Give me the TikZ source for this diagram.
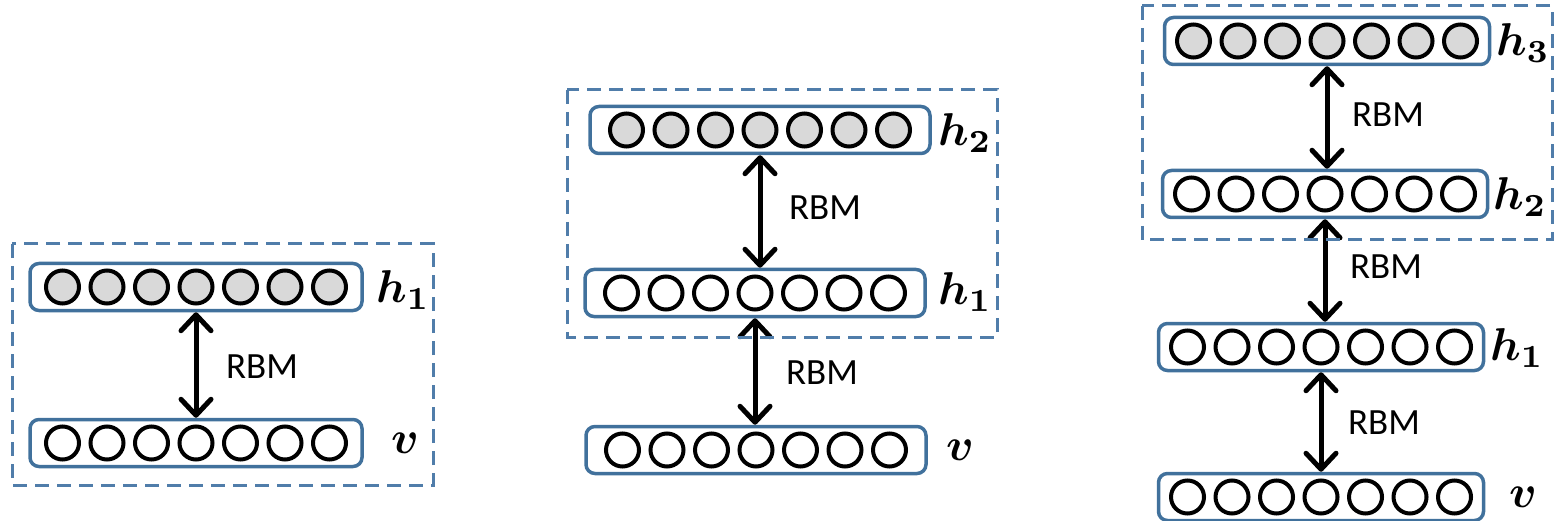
\documentclass[tikz,border=0pt]{standalone}
\usepackage{fontspec}
\usepackage{amsmath,bm}
\usetikzlibrary{arrows.meta}
\newfontfamily\rbmfont{Carlito}
\definecolor{barblue}{RGB}{65,113,156}
\definecolor{dashblue}{RGB}{80,125,170}
\definecolor{unitgray}{RGB}{217,217,217}
\tikzset{
  layerbar/.style={draw=barblue, line width=3.5pt, rounded corners=9pt, minimum width=#1, minimum height=47pt, inner sep=0pt},
  unit/.style={circle, draw=black, line width=4pt, minimum size=33pt, inner sep=0pt},
  rbmarrow/.style={line width=5pt, {Straight Barb[length=16pt,width=30pt,round]}-{Straight Barb[length=16pt,width=30pt,round]}},
  rbmlab/.style={font=\rbmfont\fontsize{37}{44}\selectfont, inner sep=0pt},
  laylab/.style={scale=4.6, inner sep=0pt},
  groupbox/.style={draw=dashblue, line width=3pt, dash pattern=on 14pt off 8pt}
}
\newcommand{\rbmlayer}[5]{% name, x, y, width, fill
  \node[layerbar=#4] (#1) at (#2,#3) {};
  \foreach \i in {1,...,7}{
    \node[unit, fill=#5] (#1-u\i) at ({#2+(\i-4)*44.5},#3) {};
  }
}
\begin{document}
\begin{tikzpicture}[x=1pt,y=-1pt]
\useasboundingbox (0,0) rectangle (1555,521);
% ---------- panel 1
\rbmlayer{pa-h1}{196}{287}{332}{unitgray}
\rbmlayer{pa-v}{196}{443}{332}{white}
\draw[rbmarrow] (pa-h1.south) -- (pa-v.north);
\node[rbmlab] (pa-r1) at (262,367) {RBM};
\node[laylab] (pa-lh1) at (403,290) {$\bm{h}_{\bm{1}}$};
\node[laylab] (pa-lv) at (405,443) {$\bm{v}$};
\draw[groupbox] (12,244) rectangle (433,485);
% ---------- panel 2
\rbmlayer{pb-h2}{760}{130}{340}{unitgray}
\rbmlayer{pb-h1}{755}{293}{340}{white}
\rbmlayer{pb-v}{756}{450}{340}{white}
\draw[rbmarrow] (pb-h2.south) -- (pb-h2.south |- pb-h1.north);
\draw[rbmarrow] (pb-h1.south) -- (pb-h1.south |- pb-v.north);
\node[rbmlab] (pb-r2) at (825,208) {RBM};
\node[rbmlab] (pb-r1) at (822,373) {RBM};
\node[laylab] (pb-lh2) at (965,133) {$\bm{h}_{\bm{2}}$};
\node[laylab] (pb-lh1) at (965,292) {$\bm{h}_{\bm{1}}$};
\node[laylab] (pb-lv) at (960,450) {$\bm{v}$};
\draw[groupbox] (567,90) rectangle (997,337);
% ---------- panel 3
\rbmlayer{pc-h3}{1327}{41}{325}{unitgray}
\rbmlayer{pc-h2}{1325}{194}{325}{white}
\rbmlayer{pc-h1}{1321}{347}{325}{white}
\rbmlayer{pc-v}{1321}{497}{325}{white}
\draw[rbmarrow] (pc-h3.south) -- (pc-h3.south |- pc-h2.north);
\draw[rbmarrow] (pc-h2.south) -- (pc-h2.south |- pc-h1.north);
\draw[rbmarrow] (pc-h1.south) -- (pc-h1.south |- pc-v.north);
\node[rbmlab] (pc-r3) at (1388,115) {RBM};
\node[rbmlab] (pc-r2) at (1386,267) {RBM};
\node[rbmlab] (pc-r1) at (1384,423) {RBM};
\node[laylab] (pc-lh3) at (1523,43) {$\bm{h}_{\bm{3}}$};
\node[laylab] (pc-lh2) at (1520,197) {$\bm{h}_{\bm{2}}$};
\node[laylab] (pc-lh1) at (1517,348) {$\bm{h}_{\bm{1}}$};
\node[laylab] (pc-lv) at (1523,497) {$\bm{v}$};
\draw[groupbox] (1142,6) rectangle (1552,240);
\end{tikzpicture}
\end{document}
